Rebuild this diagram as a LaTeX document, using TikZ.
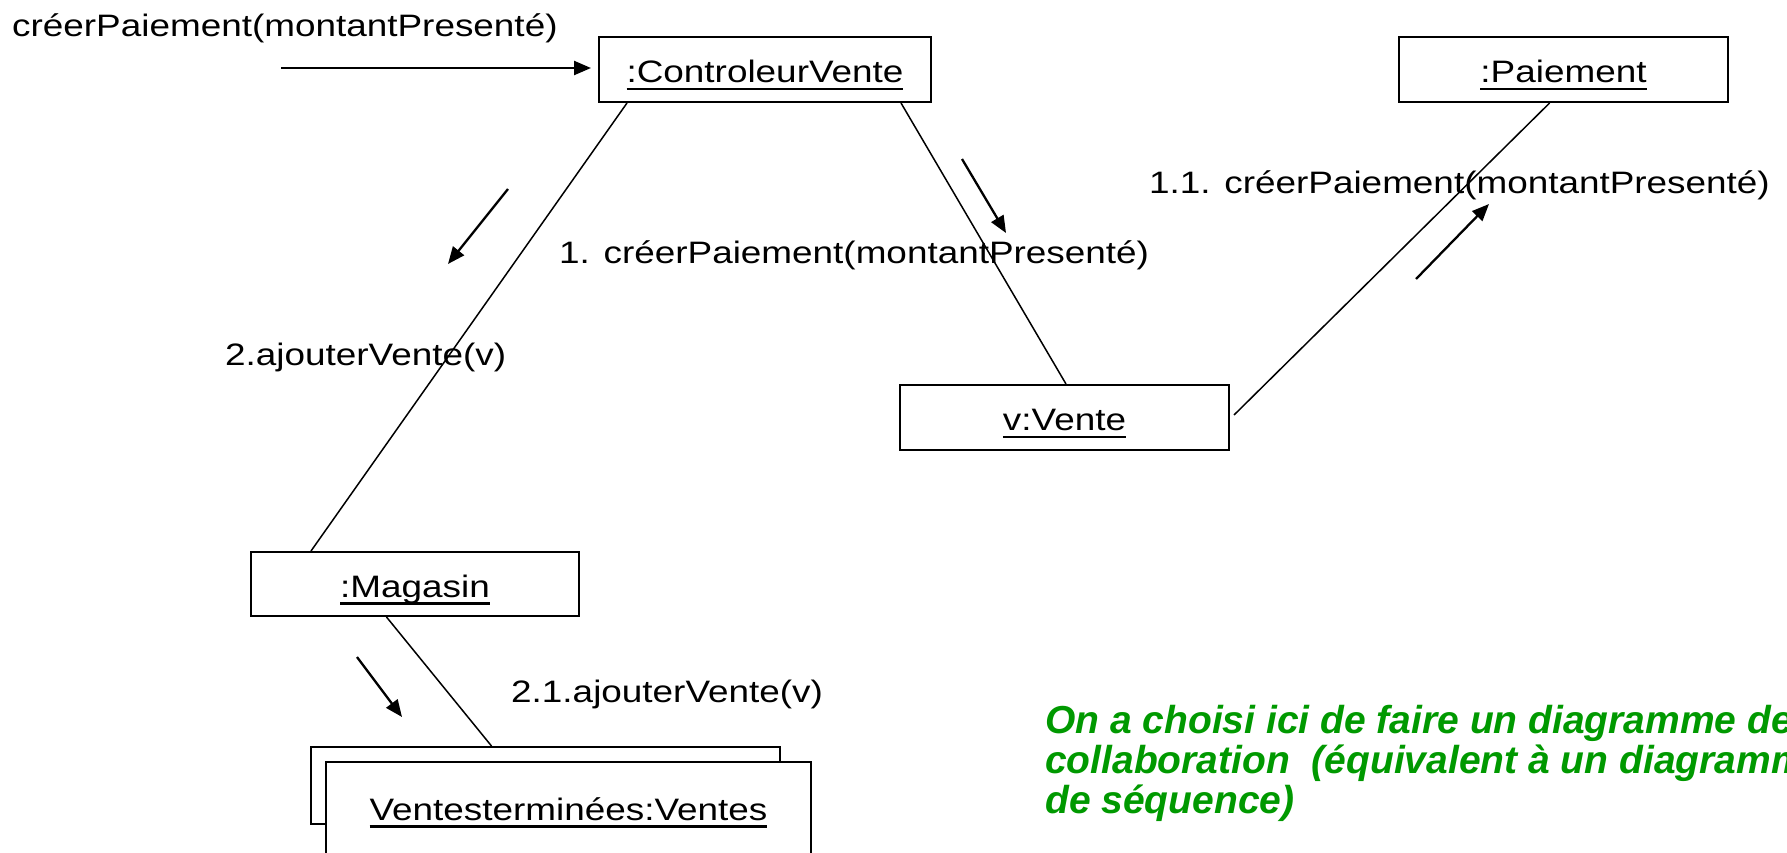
\documentclass[tikz,border=0pt]{standalone}
\usepackage{fontspec}
\setmainfont{Liberation Sans}[FakeStretch=1.19]
\newfontfamily\gfont{Liberation Sans}
\usetikzlibrary{arrows.meta,calc}
\definecolor{notegreen}{RGB}{0,153,0}
\newcommand\uln[1]{\setbox0\hbox{#1}\rlap{\rule[-7.5pt]{\wd0}{2.4pt}}\box0}
\begin{document}
\begin{tikzpicture}[x=1pt,y=-1pt,
  obj/.style={draw,line width=2pt,fill=white,inner sep=0pt,text height=26pt,text depth=0pt,font=\fontsize{31}{37}\selectfont},
  lbl/.style={anchor=base west,inner sep=0pt,font=\fontsize{31}{37}\selectfont},
  link/.style={line width=1.5pt},
  msg/.style={line width=2.3pt,-{Triangle[length=17pt,width=14pt]}},
  note/.style={anchor=base west,inner sep=0pt,text=notegreen,font=\gfont\fontsize{39}{40}\selectfont\bfseries\itshape}]
\useasboundingbox (0,0) rectangle (1787,852);
\clip (0,0) rectangle (1787,852);

% objects
\node[obj,minimum width=332pt,minimum height=65pt] (cv) at (765,69.5) {\uln{:ControleurVente}};
\node[obj,minimum width=329pt,minimum height=65pt] (pa) at (1563.5,69.5) {\uln{:Paiement}};
\node[obj,minimum width=329pt,minimum height=65pt] (ve) at (1064.5,417.5) {\uln{v:Vente}};
\node[obj,minimum width=328pt,minimum height=64pt] (mag) at (415,584) {\uln{:Magasin}};
\node[obj,minimum width=469pt,minimum height=77pt] (vtback) at (545.5,785.5) {};
\node[obj,minimum width=485pt,minimum height=96pt,text depth=6pt] (vt) at (568.5,810) {\uln{Ventesterminées:Ventes}};

% links
\draw[link] ([xshift=29pt]cv.south west) -- ([xshift=61pt]mag.north west);
\draw[link] ([xshift=303pt]cv.south west) -- ([xshift=167pt]ve.north west);
\draw[link] ([xshift=4pt,yshift=2.5pt]ve.east) -- ([xshift=151.6pt]pa.south west);
\draw[link] ([xshift=136.5pt]mag.south west) -- ([xshift=181.5pt]vtback.north west);

% message arrows
\coordinate (a0s) at (281,68);
\coordinate (a0e) at (591,68);
\coordinate (a1s) at (508,189);
\coordinate (a1e) at (448,264);
\coordinate (a2s) at (962,159);
\coordinate (a2e) at (1006,233);
\coordinate (a3s) at (1416,279);
\coordinate (a3e) at (1489,204);
\coordinate (a4s) at (357,657);
\coordinate (a4e) at (402,717);
\draw[msg] (a0s) -- (a0e);
\draw[msg] (a1s) -- (a1e);
\draw[msg] (a2s) -- (a2e);
\draw[msg] (a3s) -- (a3e);
\draw[msg] (a4s) -- (a4e);

% labels
\node[lbl] (l0) at (12,36.7) {créerPaiement(montantPresenté)};
\node[lbl] (l1) at (559,263) {1. créerPaiement(montantPresenté)};
\node[lbl] (l11) at (1149,193) {1.1. créerPaiement(montantPresenté)};
\node[lbl] (l2) at (225,365) {2.ajouterVente(v)};
\node[lbl] (l21) at (511,702) {2.1.ajouterVente(v)};

% note
\node[note] (n1) at (1045,733) {On a choisi ici de faire un diagramme de};
\node[note] (n2) at (1045,773) {collaboration~ (équivalent à un diagramme};
\node[note] (n3) at (1045,813) {de séquence)};
\end{tikzpicture}
\end{document}
